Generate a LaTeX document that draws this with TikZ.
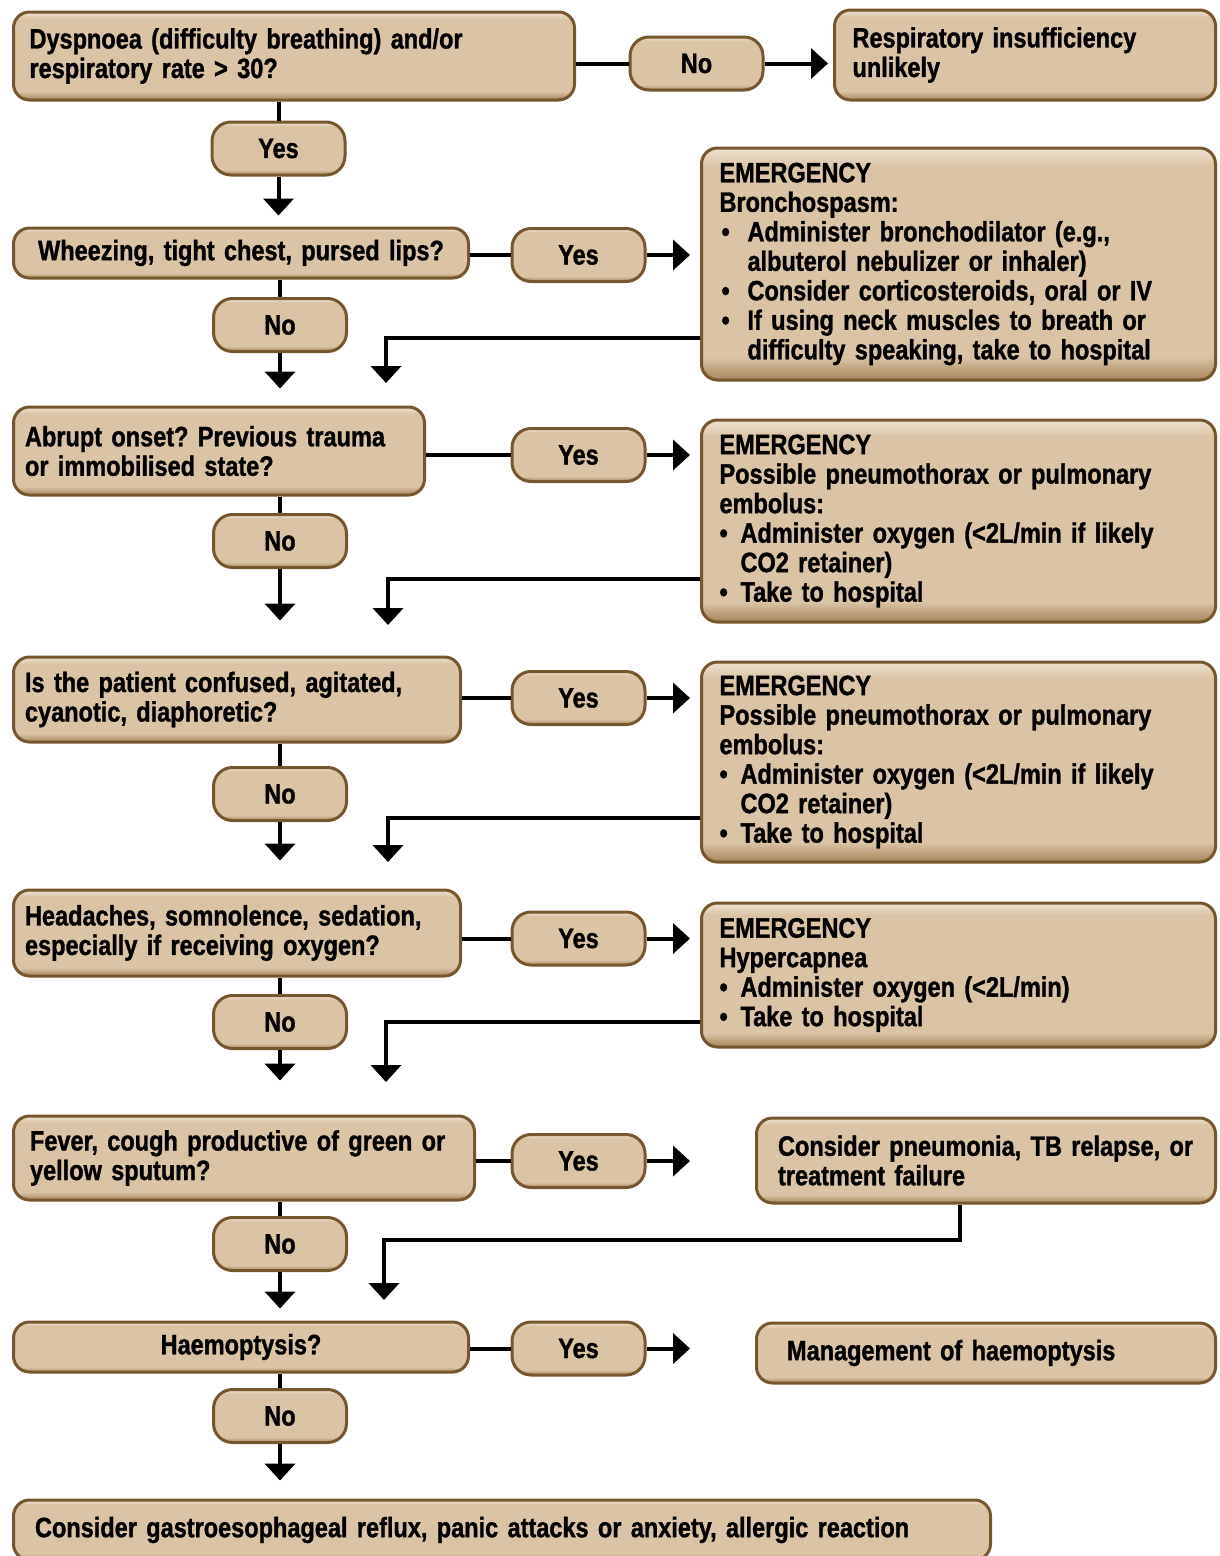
\documentclass[tikz,border=0pt]{standalone}
\usepackage{fontspec}
\setmainfont{Liberation Sans}[FakeStretch=0.84, FakeBold=1.2]
\usepackage{xcolor}
\usepackage{tikz}
\usetikzlibrary{positioning, arrows.meta, calc}

\definecolor{boxfill}{RGB}{219,196,166}
\definecolor{boxtop}{RGB}{238,226,208}
\definecolor{boxshade}{RGB}{165,132,90}
\definecolor{boxedge}{RGB}{118,86,44}

\pgfdeclareverticalshading{bevel}{100bp}{color(0bp)=(boxshade); color(25bp)=(boxshade); color(30bp)=(boxfill); color(71bp)=(boxfill); color(75bp)=(boxtop); color(100bp)=(boxtop)}

\newcommand{\bitem}[1][21pt]{\makebox[#1][l]{\textbullet}}
\newcommand{\bcont}[1][21pt]{\hspace*{#1}}
\DeclareRobustCommand{\chartfont}{\fontsize{28}{29.5}\selectfont\bfseries\fontdimen2\font=0.2em\relax}
\frenchspacing

\begin{document}
\begin{tikzpicture}[
      x=1pt, y=-1pt,
      box/.style={
        draw=boxedge,
        line width=3pt,
        rounded corners=16pt,
        shade, shading=bevel,
        align=left,
        inner xsep=16pt,
        inner ysep=0pt,
        font=\chartfont
      },
      tag/.style={
        box,
        align=center,
        rounded corners=19pt,
        minimum width=133pt,
        minimum height=53pt
      },
      link/.style={
        line width=4pt
      },
      arrow/.style={
        -{Triangle[length=17pt,width=30pt]},
        line width=4pt
      }
    ]
    \useasboundingbox (0,0) rectangle (1219,1556);

    \node[box, text width=529pt, minimum height=88pt] (q1) at (294,56) {
      Dyspnoea (difficulty breathing) and/or\\
      respiratory rate > 30?
    };
    \node[tag] (n0) at (696.5,63.5) {No};
    \node[box, inner xsep=18pt, text width=345pt, minimum height=90pt] (r1) at (1025,55) {
      Respiratory insufficiency\\
      unlikely
    };
    \node[tag] (y1) at (278.5,148.5) {Yes};

    \node[box, align=center, text width=423pt, minimum height=50pt] (q2) at (241,253) {
      Wheezing, tight chest, pursed lips?
    };
    \node[tag] (y2) at (578.5,255) {Yes};
    \node[box, inner xsep=18pt, text width=478pt, minimum height=232pt] (e1) at (958.5,264) {
      EMERGENCY\\
      Bronchospasm:\\
      \hspace*{2pt}\bitem[26pt]Administer bronchodilator (e.g.,\\
      \bcont[28pt]albuterol nebulizer or inhaler)\\
      \hspace*{2pt}\bitem[26pt]Consider corticosteroids, oral or IV\\
      \hspace*{2pt}\bitem[26pt]If using neck muscles to breath or\\
      \bcont[28pt]difficulty speaking, take to hospital
    };
    \node[tag] (n2) at (280,325) {No};

    \node[box, inner xsep=11.5pt, text width=388pt, minimum height=88pt] (q3) at (219,451) {
      Abrupt onset? Previous trauma\\
      or immobilised state?
    };
    \node[tag] (y3) at (578.5,455) {Yes};
    \node[box, inner xsep=18pt, text width=478pt, minimum height=202pt] (e2) at (958.5,521) {
      EMERGENCY\\
      Possible pneumothorax or pulmonary\\
      embolus:\\
      \bitem Administer oxygen (<2L/min if likely\\
      \bcont CO2 retainer)\\
      \bitem Take to hospital
    };
    \node[tag] (n3) at (280,541) {No};

    \node[box, inner xsep=11.5pt, text width=424pt, minimum height=85pt] (q4) at (237,699.5) {
      Is the patient confused, agitated,\\
      cyanotic, diaphoretic?
    };
    \node[tag] (y4) at (578.5,698) {Yes};
    \node[box, inner xsep=18pt, text width=478pt, minimum height=200pt] (e3) at (958.5,762) {
      EMERGENCY\\
      Possible pneumothorax or pulmonary\\
      embolus:\\
      \bitem Administer oxygen (<2L/min if likely\\
      \bcont CO2 retainer)\\
      \bitem Take to hospital
    };
    \node[tag] (n4) at (280,794) {No};

    \node[box, inner xsep=11.5pt, text width=424pt, minimum height=86pt] (q5) at (237,933) {
      Headaches, somnolence, sedation,\\
      especially if receiving oxygen?
    };
    \node[tag] (y5) at (578.5,938.5) {Yes};
    \node[box, inner xsep=18pt, text width=478pt, minimum height=144pt] (e4) at (958.5,975) {
      EMERGENCY\\
      Hypercapnea\\
      \bitem Administer oxygen (<2L/min)\\
      \bitem Take to hospital
    };
    \node[tag] (n5) at (280,1022) {No};

    \node[box, inner xsep=16.5pt, text width=428pt, minimum height=84pt] (q6) at (244,1158) {
      Fever, cough productive of green or\\
      yellow sputum?
    };
    \node[tag] (y6) at (578.5,1161) {Yes};
    \node[box, inner xsep=21.5pt, text width=416pt, minimum height=85pt] (r6) at (986,1160.5) {
      Consider pneumonia, TB relapse, or\\
      treatment failure
    };
    \node[tag] (n6) at (280,1244) {No};

    \node[box, align=center, text width=423pt, minimum height=50pt] (q7) at (241,1347) {
      Haemoptysis?
    };
    \node[tag] (y7) at (578.5,1348.5) {Yes};
    \node[box, inner xsep=30.5pt, text width=398pt, minimum height=60pt] (r7) at (986,1353) {
      Management of haemoptysis
    };
    \node[tag] (n7) at (280,1416) {No};

    \node[box, inner xsep=21.5pt, text width=934pt, minimum height=60pt] (fin) at (502,1530) {
      Consider gastroesophageal reflux, panic attacks or anxiety, allergic reaction
    };

    \coordinate (t2) at (386,383);
    \coordinate (t3) at (388,625);
    \coordinate (t4) at (388,862);
    \coordinate (t5) at (386,1082);
    \coordinate (t6) at (384,1300);

    \draw[link] (q1.east |- n0.west) -- (n0.west);
    \draw[arrow, shorten >=5pt] (n0.east) -- (n0.east -| r1.west);
    \draw[link] (q1.south -| y1.north) -- (y1.north);
    \draw[arrow, shorten >=11pt] (y1.south) -- (y1.south |- q2.north);

    \draw[link] (q2.east |- y2.west) -- (y2.west);
    \draw[arrow, shorten >=10pt] (y2.east) -- (y2.east -| e1.west);
    \draw[link] (q2.south -| n2.north) -- (n2.north);
    \draw[arrow, shorten >=17pt] (n2.south) -- (n2.south |- q3.north);
    \draw[arrow] ([yshift=44pt]e1.south west) -| (t2);

    \draw[link] (q3.east |- y3.west) -- (y3.west);
    \draw[arrow, shorten >=10pt] (y3.east) -- (y3.east -| e2.west);
    \draw[link] (q3.south -| n3.north) -- (n3.north);
    \draw[arrow, shorten >=35pt] (n3.south) -- (n3.south |- q4.north);
    \draw[arrow] ([yshift=45pt]e2.south west) -| (t3);

    \draw[link] (q4.east |- y4.west) -- (y4.west);
    \draw[arrow, shorten >=10pt] (y4.east) -- (y4.east -| e3.west);
    \draw[link] (q4.south -| n4.north) -- (n4.north);
    \draw[arrow, shorten >=28pt] (n4.south) -- (n4.south |- q5.north);
    \draw[arrow] ([yshift=46pt]e3.south west) -| (t4);

    \draw[link] (q5.east |- y5.west) -- (y5.west);
    \draw[arrow, shorten >=10pt] (y5.east) -- (y5.east -| e4.west);
    \draw[link] (q5.south -| n5.north) -- (n5.north);
    \draw[arrow, shorten >=34pt] (n5.south) -- (n5.south |- q6.north);
    \draw[arrow] ([yshift=27pt]e4.south west) -| (t5);

    \draw[link] (q6.east |- y6.west) -- (y6.west);
    \draw[arrow, shorten >=65pt] (y6.east) -- (y6.east -| r6.west);
    \draw[link] (q6.south -| n6.north) -- (n6.north);
    \draw[arrow, shorten >=12pt] (n6.south) -- (n6.south |- q7.north);
    \draw[arrow] ([xshift=-26pt]r6.south) -- ++(0,35) -| (t6);

    \draw[link] (q7.east |- y7.west) -- (y7.west);
    \draw[arrow, shorten >=65pt] (y7.east) -- (y7.east -| r7.west);
    \draw[link] (q7.south -| n7.north) -- (n7.north);
    \draw[arrow, shorten >=18pt] (n7.south) -- (n7.south |- fin.north);

    \end{tikzpicture}
\end{document}
